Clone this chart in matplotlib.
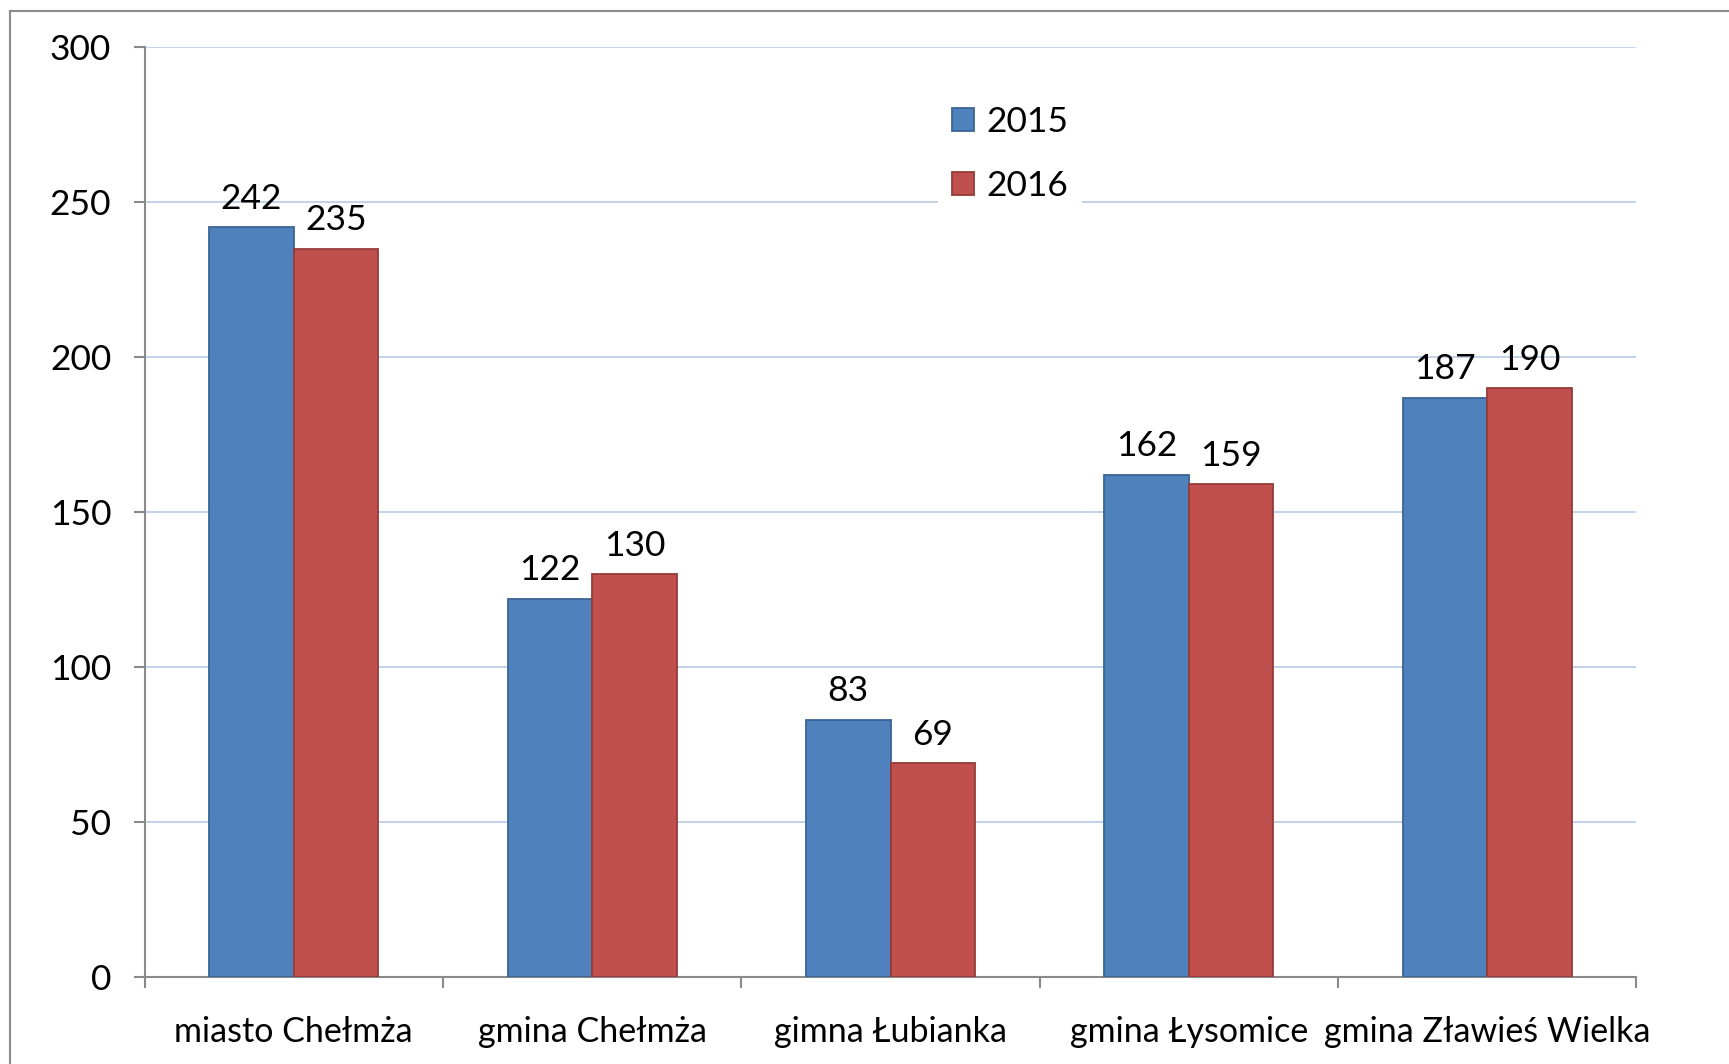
import numpy as np
import matplotlib.pyplot as plt
from matplotlib.lines import Line2D
from matplotlib.patches import Patch

plt.rcParams['font.family'] = ['Lato', 'DejaVu Sans']

categories = ["miasto Chełmża", "gmina Chełmża", "gimna Łubianka", "gmina Łysomice", "gmina Zławieś Wielka"]
years = ["2015", "2016"]
values_2015 = [242, 122, 83, 162, 187]
values_2016 = [235, 130, 69, 159, 190]
yticks = [0, 50, 100, 150, 200, 250, 300]

blue, blue_edge = "#4F81BD", "#3A6494"
red, red_edge = "#C0504D", "#943B38"
grid_col = "#BCCFE8"
axis_col = "#8A8A8A"

fig = plt.figure(figsize=(17.29, 10.64), dpi=100)
ax = fig.add_axes([0.0836, 0.0818, 0.8629, 0.8737])

x = np.arange(len(categories))
w = 0.283
b1 = ax.bar(x - w / 2, values_2015, w, color=blue, edgecolor=blue_edge, linewidth=1.3, zorder=3)
b2 = ax.bar(x + w / 2, values_2016, w, color=red, edgecolor=red_edge, linewidth=1.3, zorder=3)

for bars, vals in ((b1, values_2015), (b2, values_2016)):
    for r, v in zip(bars, vals):
        ax.annotate(str(v), (r.get_x() + r.get_width() / 2, v), xytext=(0, 9),
                    textcoords="offset points", ha="center", va="bottom", fontsize=25.5)

ax.set_xlim(-0.5, len(categories) - 0.5)
ax.set_ylim(0, 300)
ax.set_yticks(yticks)
ax.set_yticklabels([str(t) for t in yticks])
ax.yaxis.grid(True, color=grid_col, linewidth=1.3, zorder=0)
ax.set_axisbelow(True)

ax.set_xticks(x)
ax.set_xticklabels(categories)
ax.set_xticks(np.arange(len(categories) + 1) - 0.5, minor=True)
ax.tick_params(axis="x", which="major", length=0, pad=28, labelsize=24.5)
ax.tick_params(axis="x", which="minor", length=8, width=1.5, color=axis_col, direction="out")
ax.tick_params(axis="y", length=8, width=1.5, color=axis_col, pad=16, labelsize=25.5)

for s in ("top", "right"):
    ax.spines[s].set_visible(False)
for s in ("left", "bottom"):
    ax.spines[s].set_color(axis_col)
    ax.spines[s].set_linewidth(1.5)

handles = [Patch(facecolor=blue, edgecolor=blue_edge, linewidth=1.3),
           Patch(facecolor=red, edgecolor=red_edge, linewidth=1.3)]
leg = ax.legend(handles, years, loc="upper left", bbox_to_anchor=(920 / 1729, 1 - 74 / 1064),
                bbox_transform=fig.transFigure, frameon=True, fancybox=False, framealpha=1,
                edgecolor="none", fontsize=25.5, handlelength=0.62, handleheight=0.62,
                handletextpad=0.35, labelspacing=0.9, borderpad=0.4)
leg.set_zorder(5)

# outer chart border
fig.add_artist(Line2D([10 / 1729, 1], [1 - 11 / 1064, 1 - 11 / 1064], color="#8C8C8C", linewidth=1.5))
fig.add_artist(Line2D([10 / 1729, 10 / 1729], [0, 1 - 11 / 1064], color="#8C8C8C", linewidth=1.5))

fig.savefig("out.png", dpi=100)
